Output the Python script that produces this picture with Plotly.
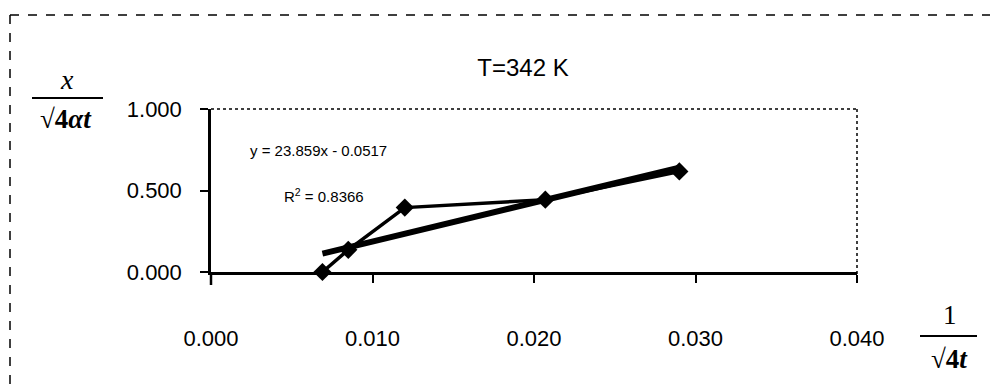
import plotly.graph_objects as go

# Data
inv_sqrt_4t = [0.0069, 0.0085, 0.0120, 0.0207, 0.0290]
x_over_sqrt = [0.000, 0.136, 0.395, 0.444, 0.617]

# Trendline coefficients as printed on the chart
slope = 23.859
intercept = -0.0517
r_squared = 0.8366

x_ticks = [0.000, 0.010, 0.020, 0.030, 0.040]
y_ticks = [0.000, 0.500, 1.000]

trend_x = [min(inv_sqrt_4t), max(inv_sqrt_4t)]
trend_y = [slope * v + intercept for v in trend_x]

fig = go.Figure()
fig.add_trace(go.Scatter(
    x=inv_sqrt_4t, y=x_over_sqrt, mode="lines+markers",
    line=dict(color="black", width=3.5),
    marker=dict(symbol="diamond", size=14, color="black"),
    showlegend=False, cliponaxis=False,
))
fig.add_trace(go.Scatter(
    x=trend_x, y=trend_y, mode="lines",
    line=dict(color="black", width=6),
    showlegend=False, cliponaxis=False,
))

OFF = 8  # page body margin
W, H = 998 - OFF, 391 - OFF
L, R, T, B = 211 - OFF, 998 - 857, 109 - OFF, 391 - 272
PW, PH = W - L - R, H - T - B

fig.update_layout(
    width=W, height=H,
    margin=dict(l=L, r=R, t=T, b=B, autoexpand=False),
    paper_bgcolor="white", plot_bgcolor="white",
    font=dict(family="Liberation Sans, Arial, sans-serif", color="black"),
    title=dict(text="T=342 K", x=(523 - OFF) / W, xanchor="center",
               y=1 - (68 - OFF) / H, yanchor="middle",
               font=dict(size=24, color="black")),
    xaxis=dict(range=[0, 0.04], tickvals=x_ticks,
               ticktext=[f"{v:.3f}" for v in x_ticks],
               showgrid=False, zeroline=False,
               showline=True, linecolor="black", linewidth=2.5,
               ticks="outside", ticklen=8, tickwidth=1.5, tickcolor="black",
               ticklabelstandoff=37,
               tickfont=dict(size=22, color="black")),
    yaxis=dict(range=[0, 1], tickvals=y_ticks,
               ticktext=[f"{v:.3f}" for v in y_ticks],
               showgrid=False, zeroline=False,
               showline=True, linecolor="black", linewidth=2.5,
               ticks="outside", ticklen=8, tickwidth=1.5, tickcolor="black",
               ticklabelstandoff=14,
               tickfont=dict(size=22, color="black")),
)

def fx(xp):
    # reference pixel x -> paper coordinate
    return (xp - OFF - L) / PW

def fy(yp):
    # reference pixel y -> paper coordinate
    return 1 - (yp - OFF - T) / PH

shapes = [
    # plot area top & right (dotted)
    dict(type="line", xref="paper", yref="paper", x0=0, x1=1, y0=1, y1=1,
         line=dict(color="black", width=1.5, dash="dot")),
    dict(type="line", xref="paper", yref="paper", x0=1, x1=1, y0=1, y1=fy(280),
         line=dict(color="black", width=1.5, dash="dot")),
    # left axis extension below x axis
    dict(type="line", xref="paper", yref="paper", x0=0, x1=0, y0=0, y1=fy(285),
         line=dict(color="black", width=2.5)),
    # outer frame
    dict(type="line", xref="paper", yref="paper",
         x0=fx(10), x1=fx(1010), y0=fy(15), y1=fy(15),
         line=dict(color="black", width=1.5, dash="dash")),
    dict(type="line", xref="paper", yref="paper",
         x0=fx(10), x1=fx(10), y0=fy(15), y1=fy(400),
         line=dict(color="black", width=1.5, dash="dash")),
    # y label fraction bar
    dict(type="line", xref="paper", yref="paper",
         x0=fx(32), x1=fx(103), y0=fy(98), y1=fy(98),
         line=dict(color="black", width=2)),
    # x label fraction bar
    dict(type="line", xref="paper", yref="paper",
         x0=fx(920), x1=fx(977), y0=fy(336), y1=fy(336),
         line=dict(color="black", width=2)),
]
fig.update_layout(shapes=shapes)

def ann(text, xp, yp, size, family="Liberation Sans, Arial, sans-serif", xanchor="center"):
    fig.add_annotation(text=text, xref="paper", yref="paper",
                       x=fx(xp), y=fy(yp),
                       xanchor=xanchor, yanchor="middle", showarrow=False,
                       font=dict(size=size, family=family, color="black"))

serif = "Liberation Serif, Times New Roman, serif"
ann("<i>x</i>", 67, 80, 28, serif)
ann("<b>√4<i>αt</i></b>", 66, 119, 27, serif)
ann("1", 950, 315, 27, serif)
ann("<b>√4<i>t</i></b>", 949, 359, 27, serif)
ann(f"y = {slope}x - {abs(intercept)}", 248, 150, 15, xanchor="left")
ann(f"R<sup>2</sup> = {r_squared}", 282, 195, 15, xanchor="left")

fig.write_html("out.html")
